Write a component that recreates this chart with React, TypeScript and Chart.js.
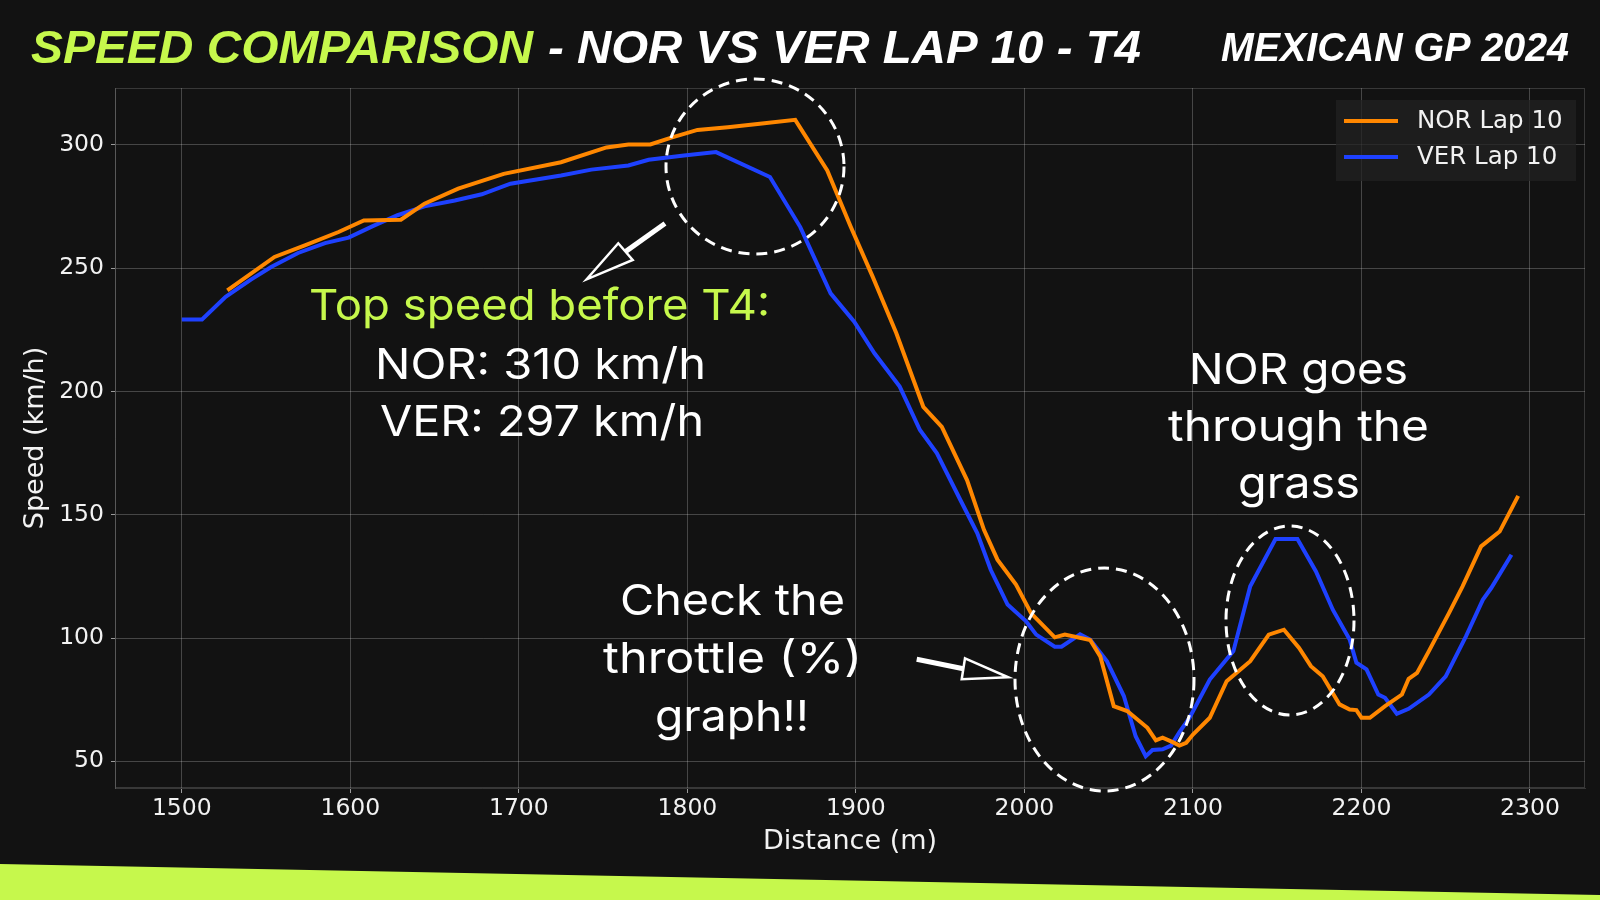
import React, { useEffect, useRef } from 'react';
import { Chart, registerables } from 'chart.js';

Chart.register(...registerables);

// ---------- DATA ----------
const seriesLabels = ['NOR Lap 10', 'VER Lap 10'];

const norDistance = [
  1527, 1555, 1573, 1593, 1608, 1630, 1644, 1664, 1691, 1725, 1752, 1765, 1778, 1790, 1806, 1824, 1843, 1864,
  1883, 1897, 1910, 1924, 1940, 1951, 1966, 1976, 1984, 1995, 2004, 2018, 2024, 2039, 2045, 2053, 2061, 2073,
  2078, 2082, 2088, 2092, 2096, 2100, 2110, 2120, 2134, 2145, 2154, 2163, 2170, 2177, 2187, 2193, 2197, 2200,
  2205, 2214, 2224, 2228, 2233, 2240, 2252, 2260, 2271, 2282, 2293,
];
const norSpeed = [
  241, 254.6, 259.3, 264.7, 269.4, 269.7, 276.2, 282.3, 288.3, 293, 299, 300.2, 300.2, 302.9, 306.1, 307.2, 308.6, 310.2,
  289.7, 266.7, 246.5, 223.6, 193.8, 185.7, 164, 143.9, 131.8, 121.7, 110, 100.3, 101.4, 99.2, 92.6, 72.4, 70.4, 63.6,
  58.5, 59.6, 57.8, 56.4, 57.5, 60.9, 67.7, 82.5, 90.6, 101.4, 103.4, 96, 88.6, 84.5, 73.1, 71, 70.8, 67.7,
  67.7, 72.4, 77.1, 83.5, 85.9, 94.7, 110.2, 121, 137.2, 143.2, 157.7,
];

const verDistance = [
  1500, 1512, 1526, 1541, 1553, 1569, 1585, 1599, 1613, 1628, 1644, 1662, 1678, 1695, 1725, 1743, 1765, 1777,
  1798, 1817, 1849, 1867, 1885, 1899, 1911, 1926, 1938, 1948, 1962, 1972, 1980, 1990, 2001, 2007, 2018, 2022,
  2033, 2039, 2049, 2059, 2066, 2072, 2076, 2082, 2087, 2092, 2098, 2110, 2124, 2134, 2149, 2162, 2173, 2183,
  2193, 2197, 2203, 2210, 2214, 2221, 2228, 2240, 2250, 2262, 2272, 2277, 2289,
];
const verSpeed = [
  229.2, 229.2, 238.4, 245.4, 250.5, 256.2, 260.2, 262.4, 267, 271.5, 275.1, 277.5, 280, 284.3, 287.6, 290, 291.7, 294,
  295.7, 297.1, 287, 266.7, 239.8, 228.3, 215.5, 202, 184.4, 175, 156, 142.6, 127.7, 113.6, 106.8, 101.4, 96.5, 96.5,
  101.5, 99.4, 90.6, 76.5, 60.2, 52.1, 54.6, 54.9, 56.4, 61.9, 67.7, 83.2, 94.7, 121, 140.2, 140.2, 127, 111.5,
  99.4, 90, 87.3, 77.1, 75.8, 69.3, 71.3, 77.1, 84.5, 100.7, 115.5, 120.3, 133.8,
];

const xTickValues = [1500, 1600, 1700, 1800, 1900, 2000, 2100, 2200, 2300];
const yTickValues = [50, 100, 150, 200, 250, 300];

// ---------- STYLE ----------
const W = 1600;
const H = 900;
const BG = '#121212';
const GREEN = '#c6f84c';
const ORANGE = '#FF8700';
const BLUE = '#1E41FF';
const GRID = 'rgba(255,255,255,0.22)';
const TEXT = '#f2f2f2';
const TICK_FONT = 'DejaVu Sans';

type Txt = { text: string; x: number; y: number; w: number; color: string; font: string; align: 'left' | 'center' };

const headerTexts: Txt[] = [
  { text: 'SPEED COMPARISON', x: 31, y: 63, w: 502, color: GREEN, font: "italic bold 46px 'Liberation Sans'", align: 'left' },
  { text: '- NOR VS VER LAP 10 - T4', x: 548, y: 63, w: 593, color: '#ffffff', font: "italic bold 46px 'Liberation Sans'", align: 'left' },
  { text: 'MEXICAN GP 2024', x: 1221, y: 61, w: 348, color: '#ffffff', font: "italic bold 40px 'Liberation Sans'", align: 'left' },
];

const ANN_FONT = "43px Inter, 'Open Sans', sans-serif";
const noteTexts: Txt[] = [
  { text: 'Top speed before T4:', x: 539.5, y: 320, w: 461, color: GREEN, font: ANN_FONT, align: 'center' },
  { text: 'NOR: 310 km/h', x: 540.5, y: 379, w: 331, color: '#ffffff', font: ANN_FONT, align: 'center' },
  { text: 'VER: 297 km/h', x: 542, y: 436, w: 324, color: '#ffffff', font: ANN_FONT, align: 'center' },
  { text: 'NOR goes', x: 1298.5, y: 384, w: 219, color: '#ffffff', font: ANN_FONT, align: 'center' },
  { text: 'through the', x: 1298.5, y: 441, w: 261, color: '#ffffff', font: ANN_FONT, align: 'center' },
  { text: 'grass', x: 1299, y: 498, w: 122, color: '#ffffff', font: ANN_FONT, align: 'center' },
  { text: 'Check the', x: 732.5, y: 615, w: 225, color: '#ffffff', font: ANN_FONT, align: 'center' },
  { text: 'throttle (%)', x: 732.5, y: 673, w: 259, color: '#ffffff', font: ANN_FONT, align: 'center' },
  { text: 'graph!!', x: 732, y: 731, w: 154, color: '#ffffff', font: ANN_FONT, align: 'center' },
];

const ellipses = [
  { cx: 755, cy: 166.5, rx: 89, ry: 87.5 },
  { cx: 1104.5, cy: 679.5, rx: 89.5, ry: 111.5 },
  { cx: 1290, cy: 620.5, rx: 64, ry: 94.5 },
];

const arrows = [
  { from: [665, 223.5], base1: [618.3, 243.3], base2: [632.7, 260], tip: [586.7, 279.3] },
  { from: [916.7, 659.3], base1: [965, 658.3], base2: [961.7, 679.3], tip: [1008.3, 677.3] },
];

function fittedText(ctx: CanvasRenderingContext2D, t: Txt) {
  ctx.save();
  ctx.font = t.font;
  const natural = ctx.measureText(t.text).width;
  const s = t.w / natural;
  ctx.translate(t.x, t.y);
  ctx.scale(s, 1);
  ctx.textAlign = t.align;
  ctx.textBaseline = 'alphabetic';
  ctx.fillStyle = t.color;
  ctx.fillText(t.text, 0, 0);
  ctx.restore();
}

const decorPlugin = {
  id: 'decor',
  beforeDraw(chart: any) {
    const ctx: CanvasRenderingContext2D = chart.ctx;
    ctx.save();
    ctx.fillStyle = BG;
    ctx.fillRect(0, 0, W, H);
    ctx.restore();
  },
  afterDraw(chart: any) {
    const ctx: CanvasRenderingContext2D = chart.ctx;
    const a = chart.chartArea;
    ctx.save();
    // frame
    ctx.strokeStyle = 'rgba(255,255,255,0.16)';
    ctx.lineWidth = 1;
    ctx.strokeRect(a.left + 0.5, a.top + 0.5, a.right - a.left - 1, a.bottom - a.top - 1);

    // legend
    ctx.fillStyle = 'rgba(34,34,34,0.75)';
    ctx.fillRect(1336, 100, 240, 81);
    const legendRows = [121, 157];
    chart.data.datasets.forEach((ds: any, i: number) => {
      const y = legendRows[i];
      ctx.strokeStyle = ds.borderColor;
      ctx.lineWidth = 4;
      ctx.beginPath();
      ctx.moveTo(1344, y);
      ctx.lineTo(1398, y);
      ctx.stroke();
      ctx.fillStyle = TEXT;
      ctx.font = `24.5px '${TICK_FONT}'`;
      ctx.textAlign = 'left';
      ctx.textBaseline = 'middle';
      ctx.fillText(ds.label, 1417, y + 1);
    });

    // ellipses
    ctx.strokeStyle = '#ffffff';
    ctx.lineWidth = 3;
    ctx.setLineDash([11, 7]);
    ellipses.forEach((e) => {
      ctx.beginPath();
      ctx.ellipse(e.cx, e.cy, e.rx, e.ry, 0, 0, Math.PI * 2);
      ctx.stroke();
    });
    ctx.setLineDash([]);

    // arrows
    arrows.forEach((ar) => {
      const bm = [(ar.base1[0] + ar.base2[0]) / 2, (ar.base1[1] + ar.base2[1]) / 2];
      ctx.strokeStyle = '#ffffff';
      ctx.lineWidth = 5;
      ctx.beginPath();
      ctx.moveTo(ar.from[0], ar.from[1]);
      ctx.lineTo(bm[0], bm[1]);
      ctx.stroke();
      ctx.lineWidth = 2.5;
      ctx.lineJoin = 'miter';
      ctx.fillStyle = BG;
      ctx.beginPath();
      ctx.moveTo(ar.base1[0], ar.base1[1]);
      ctx.lineTo(ar.tip[0], ar.tip[1]);
      ctx.lineTo(ar.base2[0], ar.base2[1]);
      ctx.closePath();
      ctx.fill();
      ctx.stroke();
    });

    // texts
    noteTexts.forEach((t) => fittedText(ctx, t));
    headerTexts.forEach((t) => fittedText(ctx, t));

    // bottom band
    ctx.fillStyle = GREEN;
    ctx.beginPath();
    ctx.moveTo(0, 864);
    ctx.lineTo(W, 895);
    ctx.lineTo(W, H);
    ctx.lineTo(0, H);
    ctx.closePath();
    ctx.fill();
    ctx.restore();
  },
};

function paddedRange(values: number[]) {
  const mn = Math.min(...values);
  const mx = Math.max(...values);
  const pad = (mx - mn) * 0.05;
  return [mn - pad, mx + pad];
}

export default function App() {
  const canvasRef = useRef<HTMLCanvasElement | null>(null);

  useEffect(() => {
    document.body.style.margin = '0';
    document.body.style.background = BG;
    const canvas = canvasRef.current;
    if (!canvas) return;
    const [xMin, xMax] = paddedRange([...norDistance, ...verDistance]);
    const [yMin, yMax] = paddedRange([...norSpeed, ...verSpeed]);

    const chart = new Chart(canvas, {
      type: 'line',
      data: {
        datasets: [
          {
            label: seriesLabels[0],
            data: norDistance.map((x, i) => ({ x, y: norSpeed[i] })),
            borderColor: ORANGE,
            backgroundColor: ORANGE,
            borderWidth: 4,
            pointRadius: 0,
            tension: 0,
            fill: false,
          },
          {
            label: seriesLabels[1],
            data: verDistance.map((x, i) => ({ x, y: verSpeed[i] })),
            borderColor: BLUE,
            backgroundColor: BLUE,
            borderWidth: 4,
            pointRadius: 0,
            tension: 0,
            fill: false,
          },
        ],
      },
      options: {
        animation: false,
        responsive: false,
        devicePixelRatio: 1,
        layout: { padding: { left: 0, right: 15, top: 88, bottom: 0 } },
        plugins: { legend: { display: false }, tooltip: { enabled: false } },
        scales: {
          x: {
            type: 'linear',
            min: xMin,
            max: xMax,
            afterBuildTicks: (s: any) => {
              s.ticks = xTickValues.map((v) => ({ value: v }));
            },
            afterFit: (s: any) => {
              s.height = 112;
            },
            grid: { color: GRID, lineWidth: 1, tickLength: 5, tickColor: '#9a9a9a', drawTicks: true },
            border: { display: true, color: 'rgba(255,255,255,0.16)' },
            ticks: {
              color: TEXT,
              font: { family: TICK_FONT, size: 23.5 },
              padding: 2,
              maxRotation: 0,
              autoSkip: false,
              callback: (v: any) => String(v),
            },
            title: {
              display: true,
              text: 'Distance (m)',
              color: TEXT,
              font: { family: TICK_FONT, size: 27 },
              padding: { top: 0, bottom: 41.8 },
            },
          },
          y: {
            type: 'linear',
            min: yMin,
            max: yMax,
            afterBuildTicks: (s: any) => {
              s.ticks = yTickValues.map((v) => ({ value: v }));
            },
            afterFit: (s: any) => {
              s.width = 115;
            },
            grid: { color: GRID, lineWidth: 1, tickLength: 4, tickColor: '#9a9a9a', drawTicks: true },
            border: { display: true, color: 'rgba(255,255,255,0.16)' },
            ticks: {
              color: TEXT,
              font: { family: TICK_FONT, size: 23.5 },
              padding: 7,
              autoSkip: false,
              callback: (v: any) => String(v),
            },
            title: {
              display: true,
              text: 'Speed (km/h)',
              color: TEXT,
              font: { family: TICK_FONT, size: 27 },
              padding: { top: 19.8, bottom: 0 },
            },
          },
        },
      },
      plugins: [decorPlugin],
    } as any);

    return () => chart.destroy();
  }, []);

  return (
    <div style={{ position: 'fixed', left: 0, top: 0, width: W, height: H, background: BG }}>
      <canvas ref={canvasRef} width={W} height={H} style={{ display: 'block', width: W, height: H }} />
    </div>
  );
}
